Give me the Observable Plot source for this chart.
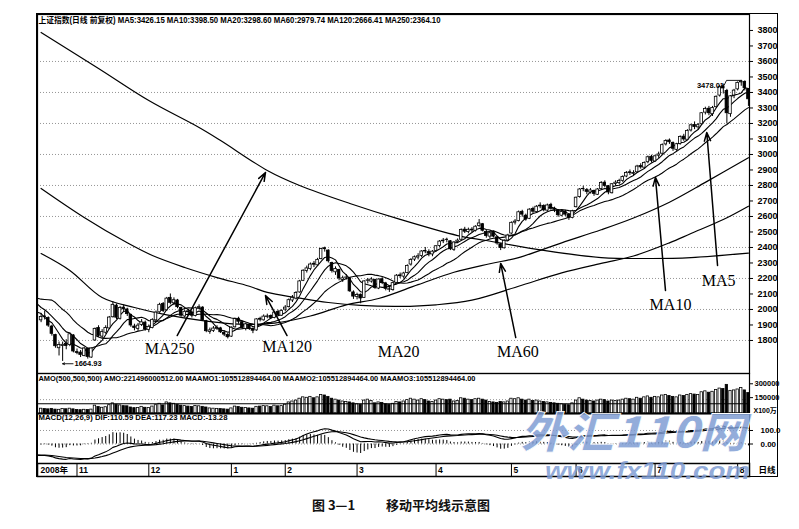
<!DOCTYPE html>
<html><head><meta charset="utf-8">
<script src="https://cdn.jsdelivr.net/npm/d3@7"></script>
<script src="https://cdn.jsdelivr.net/npm/@observablehq/plot@0.6"></script>
<style>
body{margin:0;background:#fff;}
#wrap{position:relative;width:799px;height:529px;overflow:hidden;background:#fff;font-family:"Liberation Sans",Arial,"Noto Sans CJK SC",sans-serif;}
#wrap > *{position:absolute;}
#box{left:36px;top:13px;width:740px;height:462px;border:1px solid #000;}
.cap{font-family:"Noto Sans CJK SC",sans-serif;font-weight:700;font-size:13px;color:#111;white-space:pre;}
</style></head><body><div id="wrap"><div id="box"></div></div>
<script>
// ---------- data ----------
const mainHeader = "上证指数(日线 前复权) MA5:3426.15 MA10:3398.50 MA20:3298.60 MA60:2979.74 MA120:2666.41 MA250:2364.10";
const volHeader = "AMO(500,500,500) AMO:221496000512.00 MAAMO1:105512894464.00 MAAMO2:105512894464.00 MAAMO3:105512894464.00";
const macdHeader = "MACD(12,26,9) DIF:110.59 DEA:117.23 MACD:-13.28";
const captionLeft = "图 3—1";
const captionRight = "移动平均线示意图";

// closes of the 19 sessions before the first visible day (for MA / MACD warm-up)
const priorClose = [1987,1929,1896,2075,2236,2202,2114,2298,2294,2174,2093,2092,2075,2001,1999,2073,1998,1913,1931];

const openP = [
1930,1955,1945,1890,1835,1750,1765,1778,1770,1832,
1725,1722,1700,1745,1690,1800,1880,1825,1850,1878,
1950,2025,1940,2012,2000,1965,1890,1875,1900,1915,
1868,1880,1930,1982,2035,1995,2075,2040,2058,2010,
1955,1988,1980,1958,2010,2012,1925,1855,1862,1875,
1878,1850,1835,1825,1885,1940,1918,1875,1900,1870,
1865,1940,1930,1952,1958,1945,1985,1960,2000,2015,
2058,2070,2110,2185,2248,2262,2295,2285,2325,2395,
2380,2300,2240,2255,2190,2205,2200,2110,2080,2095,
2075,2185,2180,2190,2135,2195,2168,2130,2125,2172,
2220,2212,2235,2290,2322,2335,2345,2378,2370,2355,
2378,2410,2440,2450,2440,2385,2435,2450,2515,2500,
2515,2508,2538,2550,2500,2470,2495,2465,2420,2395,
2445,2490,2560,2570,2630,2605,2585,2648,2628,2665,
2668,2638,2675,2648,2640,2605,2632,2610,2590,2660,
2725,2778,2770,2755,2765,2740,2778,2818,2795,2750,
2810,2815,2830,2858,2885,2875,2885,2925,2915,2950,
2985,2955,2992,3005,3065,3090,3075,3030,3068,3115,
3095,3155,3190,3175,3195,3270,3295,3260,3305,3380,
3440,3410,3260,3380,3420,3465,3468,3420];
const highP = [
1975,1990,1952,1898,1840,1790,1790,1805,1848,1838,
1745,1735,1755,1750,1752,1880,1895,1870,1895,1955,
2050,2035,2020,2030,2008,1970,1905,1910,1935,1925,
1900,1940,1990,2040,2045,2078,2100,2075,2065,2015,
1995,2000,1990,2015,2030,2018,1930,1880,1890,1895,
1885,1862,1845,1888,1945,1950,1925,1912,1910,1880,
1940,1950,1965,1970,1965,1988,1995,1998,2025,2068,
2090,2115,2188,2256,2280,2300,2310,2330,2395,2402,
2385,2305,2275,2260,2215,2225,2205,2120,2105,2100,
2185,2200,2205,2195,2198,2205,2175,2145,2175,2225,
2235,2240,2288,2328,2345,2360,2380,2400,2385,2380,
2412,2445,2458,2460,2445,2438,2455,2520,2530,2525,
2528,2540,2580,2555,2510,2500,2505,2470,2425,2450,
2485,2565,2580,2635,2640,2615,2650,2660,2670,2688,
2675,2680,2685,2660,2645,2638,2640,2615,2640,2725,
2780,2795,2780,2780,2770,2780,2825,2830,2800,2812,
2830,2840,2862,2890,2900,2895,2930,2940,2952,2990,
2995,2995,3015,3068,3095,3100,3080,3072,3120,3130,
3160,3195,3210,3200,3270,3305,3310,3310,3378,3445,
3454,3420,3380,3420,3468,3478,3475,3425];
const lowP = [
1915,1932,1885,1828,1750,1700,1665,1740,1760,1720,
1708,1690,1695,1680,1685,1795,1820,1812,1840,1870,
1945,1935,1932,1985,1955,1885,1862,1860,1890,1860,
1850,1875,1920,1975,1980,1988,2030,2025,2005,1950,
1945,1968,1945,1952,1998,1925,1850,1840,1852,1865,
1845,1825,1810,1820,1880,1905,1870,1862,1865,1844,
1860,1920,1925,1940,1935,1940,1955,1955,1985,2010,
2045,2062,2105,2180,2235,2250,2270,2278,2320,2370,
2300,2235,2220,2185,2175,2190,2110,2065,2062,2037,
2072,2165,2170,2130,2128,2160,2120,2110,2118,2165,
2200,2200,2230,2280,2310,2320,2335,2360,2340,2340,
2370,2400,2425,2430,2380,2375,2425,2445,2490,2488,
2495,2500,2530,2500,2460,2455,2462,2415,2380,2390,
2440,2485,2545,2565,2595,2570,2580,2620,2620,2650,
2630,2630,2640,2625,2595,2598,2600,2575,2585,2655,
2718,2760,2740,2745,2730,2735,2770,2785,2740,2745,
2798,2805,2820,2850,2865,2860,2878,2905,2905,2940,
2945,2950,2975,3000,3055,3065,3020,3020,3060,3085,
3090,3145,3160,3160,3190,3255,3250,3245,3300,3370,
3390,3197,3240,3360,3410,3440,3410,3310];
const closeP = [
1952,1950,1896,1843,1763,1771,1772,1764,1840,1729,
1720,1707,1748,1694,1748,1875,1830,1854,1880,1948,
2030,1947,2010,2001,1970,1897,1880,1896,1917,1871,
1888,1933,1980,2030,1990,2070,2043,2060,2015,1960,
1985,1982,1960,2008,2015,1930,1860,1865,1877,1880,
1853,1838,1821,1882,1938,1921,1879,1904,1875,1863,
1936,1934,1954,1955,1946,1980,1963,1991,2012,2060,
2075,2107,2181,2250,2265,2290,2289,2320,2390,2389,
2311,2249,2261,2200,2201,2206,2117,2083,2093,2071,
2181,2188,2193,2139,2193,2170,2133,2128,2170,2218,
2215,2232,2281,2320,2337,2343,2374,2374,2360,2373,
2408,2438,2444,2448,2389,2432,2444,2513,2502,2514,
2510,2534,2555,2508,2474,2492,2470,2426,2396,2443,
2477,2559,2567,2627,2612,2580,2644,2631,2663,2670,
2640,2671,2650,2643,2608,2629,2612,2592,2633,2721,
2774,2776,2759,2768,2746,2774,2816,2797,2755,2808,
2818,2829,2855,2880,2880,2881,2922,2917,2945,2982,
2959,2988,3000,3060,3087,3079,3037,3066,3113,3097,
3152,3188,3177,3189,3266,3293,3266,3300,3372,3435,
3426,3266,3375,3412,3462,3471,3428,3356];
// turnover, in units of 100万 yuan
const volume = [
52000,48000,45000,50000,42000,40000,48000,46000,52000,45000,
38000,36000,40000,38000,42000,85000,70000,62000,68000,90000,110000,95000,88000,80000,78000,65000,58000,60000,72000,62000,
60000,75000,90000,105000,88000,120000,110000,105000,95000,85000,80000,75000,70000,82000,78000,72000,65000,55000,52000,50000,48000,45000,42000,
55000,75000,70000,62000,60000,55000,52000,72000,75000,80000,78000,70000,85000,78000,80000,
95000,120000,130000,140000,160000,175000,170000,180000,165000,175000,200000,195000,180000,160000,150000,140000,130000,125000,120000,110000,
100000,95000,140000,150000,135000,110000,120000,115000,100000,95000,105000,125000,120000,130000,145000,160000,150000,140000,155000,145000,130000,125000,
140000,155000,150000,145000,150000,130000,135000,165000,160000,150000,145000,155000,160000,150000,140000,125000,120000,115000,125000,120000,130000,
160000,155000,165000,150000,140000,150000,135000,140000,130000,125000,120000,115000,110000,105000,100000,95000,90000,110000,
140000,165000,150000,140000,135000,130000,140000,150000,145000,130000,140000,135000,140000,150000,160000,155000,150000,170000,160000,175000,185000,170000,
180000,175000,195000,200000,190000,180000,175000,195000,190000,200000,210000,205000,200000,230000,240000,225000,235000,255000,270000,265000,310000,245000,250000,
260000,275000,250000,221496];
const maamo = 105512.894464;

// long moving averages (session index -> value)
const ma60Day = [0,8,17,26,35,45,55,65,75,85,94,105,115,125,133,145,156,165,175,185,197];
const ma60 = [2361,2252,2077,2013,1965,1928,1905,1912,1958,2030,2071,2160,2240,2295,2335,2430,2514,2590,2692,2820,2979];
const ma120Day = [0,12,24,31,40,49,58,63,71,80,89,100,110,120,133,145,156,165,175,181,190,197];
const ma120 = [2781,2594,2430,2348,2271,2206,2150,2110,2077,2045,2026,2020,2030,2060,2150,2236,2297,2345,2430,2490,2580,2666];
const ma250Day = [0,16,30,44,50,63,72,86,100,116,124,140,156,170,181,197];
const ma250 = [3787,3555,3348,3174,3090,2897,2800,2684,2581,2477,2445,2381,2335,2329,2335,2364];

// MACD warm-up state before the first prior session
const emaSeed12 = 2160, emaSeed26 = 2330, deaSeed = -140;

// axes
const priceTicks = [1800,1900,2000,2100,2200,2300,2400,2500,2600,2700,2800,2900,3000,3100,3200,3300,3400,3500,3600,3700,3800];
const gridTicks = [1800,2000,2200,2400,2600,2800,3000,3200,3400,3600];
const volTicks = [150000,300000];
const volUnit = "X100万";
const macdTicks = [0,100];
const macdTickLabels = ["0.00","100.0"];
const monthDay = [10,30,53,68,88,110,131,149,171,194];
const monthLabel = ["11","12","1","2","3","4","5","6","7","8"];
const yearLabel = "2008年";
const periodLabel = "日线";

// annotations
const annoLabel = ["MA250","MA120","MA20","MA60","MA10","MA5"];
const annoDay = [35.8,68.5,99.6,132.8,175.3,188.7];
const annoPrice = [1745,1758,1729,1729,2032,2187];
const arrowFromDay = [37.9,68.5,132.2,173.9,188.4];
const arrowFromPrice = [1832,1832,1819,2123,2284];
const arrowToDay = [62.5,62.5,128,171.1,185.4];
const arrowToPrice = [2884,2090,2297,2852,3142];
const peakLabel = "3478.01";
const peakLabelDay = 190.2, peakLabelPrice = 3445;
const peakLineDay = [190.3,190.9,195];
const peakLinePrice = [3450,3478,3478];
const lowLabel = "1664.93";
const lowArrowDay = [8.9,6.0], lowArrowPrice = [1650,1650];
const lowLabelDay = 9.3;

const watermarkCN = "外汇110网";
const watermarkURL = "www.fx110.com";

// ---------- build ----------
const days = closeP.map((c,i)=>({i, o:openP[i], h:highP[i], l:lowP[i], c, v:volume[i]}));
const hist = priorClose.map((c,k)=>({i:k-priorClose.length, c})).concat(days.map(d=>({i:d.i, c:d.c})));
const toPts = (ds, vs) => ds.map((d,k)=>({i:d, v:vs[k]}));

let e12 = emaSeed12, e26 = emaSeed26, dea = deaSeed;
const macdRows = hist.map(d => {
  e12 = e12*11/13 + d.c*2/13;
  e26 = e26*25/27 + d.c*2/27;
  const dif = e12 - e26;
  dea = dea*0.8 + dif*0.2;
  return {i:d.i, dif, dea, macd:2*(dif-dea)};
});

const FONT = "Liberation Sans, Arial, Noto Sans CJK SC, sans-serif";
const common = {width:740, marginLeft:0, marginRight:28, marginTop:0, marginBottom:0,
  x:{domain:[-1,197.3], axis:null}, color:{type:"identity"},
  style:{fontFamily:FONT, background:"transparent", overflow:"visible", color:"#000"}};
const upFill = d => d.c >= d.o ? "#fff" : "#000";
const maLine = (k) => Plot.lineY(hist, Plot.windowY({k, anchor:"end", reduce:"mean"}, {x:"i", y:"c", stroke:"#000", strokeWidth:1.1, clip:true}));

const mainPlot = Plot.plot({...common, height:359,
  y:{domain:[1587,3903]},
  marks:[
    Plot.ruleY(gridTicks, {stroke:"#8a8a8a", strokeDasharray:"1,2", strokeWidth:0.9}),
    Plot.axisY(priceTicks, {anchor:"right", tickSize:3, tickPadding:5, tickFormat:d=>String(d), fontSize:9, fontWeight:"bold", label:null}),
    Plot.line(toPts(ma250Day, ma250), {x:"i", y:"v", curve:"catmull-rom", stroke:"#000", strokeWidth:1.2}),
    Plot.line(toPts(ma120Day, ma120), {x:"i", y:"v", curve:"catmull-rom", stroke:"#000", strokeWidth:1.2}),
    Plot.line(toPts(ma60Day, ma60), {x:"i", y:"v", curve:"catmull-rom", stroke:"#000", strokeWidth:1.2}),
    maLine(20), maLine(10), maLine(5),
    Plot.ruleX(days, {x:"i", y1:"l", y2:"h", stroke:"#000", strokeWidth:1}),
    Plot.rect(days, {x1:d=>d.i-0.36, x2:d=>d.i+0.36, y1:"o", y2:"c", fill:upFill, stroke:"#000", strokeWidth:0.8}),
    Plot.arrow(arrowFromDay.map((d,k)=>k), {x1:k=>arrowFromDay[k], y1:k=>arrowFromPrice[k], x2:k=>arrowToDay[k], y2:k=>arrowToPrice[k], stroke:"#000", strokeWidth:1.5, headLength:9, headAngle:40}),
    Plot.text(annoLabel, {x:(d,k)=>annoDay[k], y:(d,k)=>annoPrice[k], text:d=>d, fontFamily:"Liberation Serif, Times New Roman, serif", fontSize:16, fill:"#000"}),
    Plot.line(toPts(peakLineDay, peakLinePrice), {x:"i", y:"v", stroke:"#000", strokeWidth:0.9}),
    Plot.text([peakLabel], {x:peakLabelDay, y:peakLabelPrice, text:d=>d, textAnchor:"end", fontSize:7.5, fontWeight:"bold"}),
    Plot.arrow([0], {x1:lowArrowDay[0], y1:lowArrowPrice[0], x2:lowArrowDay[1], y2:lowArrowPrice[1], stroke:"#000", strokeWidth:0.9, headLength:3.5, headAngle:50}),
    Plot.text([lowLabel], {x:lowLabelDay, y:lowArrowPrice[0], text:d=>d, textAnchor:"start", fontSize:7.5, fontWeight:"bold"}),
    Plot.text([mainHeader], {frameAnchor:"top-left", text:d=>d, dx:1, dy:2, fontSize:8.5, fontWeight:"bold", textAnchor:"start", lineAnchor:"top"}),
    Plot.frame({stroke:"#000", strokeWidth:1.2})
  ]});

const volPlot = Plot.plot({...common, height:40,
  y:{domain:[0,433000]},
  marks:[
    Plot.ruleY(volTicks.slice(0,1), {stroke:"#8a8a8a", strokeDasharray:"1,2", strokeWidth:0.9}),
    Plot.rect(days, {x1:d=>d.i-0.33, x2:d=>d.i+0.33, y1:0, y2:"v", fill:upFill, stroke:"#000", strokeWidth:0.8}),
    Plot.ruleY([maamo], {stroke:"#000", strokeWidth:1}),
    Plot.axisY(volTicks, {anchor:"right", tickSize:3, tickPadding:2, tickFormat:d=>String(d), fontSize:7.5, fontWeight:"bold", label:null, dy:-2}),
    Plot.text([volUnit], {frameAnchor:"bottom-right", text:d=>d, dx:4, dy:-1, textAnchor:"start", lineAnchor:"bottom", fontSize:7, fontWeight:"bold"}),
    Plot.text([volHeader], {frameAnchor:"top-left", text:d=>d, dx:1, dy:2, fontSize:7.5, fontWeight:"bold", textAnchor:"start", lineAnchor:"top"}),
    Plot.frame({stroke:"#000", strokeWidth:1.2}),
    Plot.ruleY([0], {stroke:"#000", strokeWidth:2})
  ]});

const macdPlot = Plot.plot({...common, height:50,
  y:{domain:[-144.4,225.9]},
  marks:[
    Plot.ruleY(macdTicks, {stroke:"#8a8a8a", strokeDasharray:"1,2", strokeWidth:0.9}),
    Plot.ruleX(macdRows, {x:"i", y1:0, y2:"macd", stroke:"#000", strokeWidth:1, clip:true}),
    Plot.line(macdRows, {x:"i", y:"dif", stroke:"#000", strokeWidth:1.1, clip:true}),
    Plot.line(macdRows, {x:"i", y:"dea", stroke:"#000", strokeWidth:1.1, clip:true}),
    Plot.axisY(macdTicks, {anchor:"right", tickSize:3, tickPadding:8, tickFormat:d=>macdTickLabels[macdTicks.indexOf(d)], fontSize:8, fontWeight:"bold", label:null}),
    Plot.text([macdHeader], {frameAnchor:"top-left", text:d=>d, dx:1, dy:1, fontSize:7.5, fontWeight:"bold", textAnchor:"start", lineAnchor:"top"}),
    Plot.frame({stroke:"#000", strokeWidth:1})
  ]});

const axisPlot = Plot.plot({...common, height:13,
  y:{domain:[0,1], axis:null},
  marks:[
    Plot.ruleX(monthDay, {x:d=>d, stroke:"#000", strokeWidth:1}),
    Plot.text(monthDay, {x:d=>d, text:(d,k)=>monthLabel[k], frameAnchor:"middle", dx:2, textAnchor:"start", fontSize:8.5, fontWeight:"bold"}),
    Plot.text([yearLabel], {frameAnchor:"left", text:d=>d, dx:3, textAnchor:"start", fontSize:8.5, fontWeight:"bold"}),
    Plot.text([periodLabel], {frameAnchor:"right", text:d=>d, dx:9, textAnchor:"start", fontSize:8.5, fontWeight:"bold"}),
    Plot.frame({stroke:"#000", strokeWidth:1.5})
  ]});

const wrap = document.getElementById("wrap");
function place(svg, top){ svg.style.left = "37px"; svg.style.top = top + "px"; wrap.appendChild(svg); }
place(mainPlot, 14); place(volPlot, 373); place(macdPlot, 413); place(axisPlot, 463);

function fitText(svg, startsWith, len){
  d3.select(svg).selectAll("text").filter(function(){return this.textContent.startsWith(startsWith);})
    .attr("textLength", len).attr("lengthAdjust","spacingAndGlyphs");
}
fitText(mainPlot, "上证", 402);
fitText(volPlot, "AMO(", 437);
fitText(macdPlot, "MACD(", 189);

// watermark overlay
const ov = d3.create("svg").attr("width",799).attr("height",529).style("left","0px").style("top","0px").style("pointer-events","none");
ov.append("text").attr("x",520).attr("y",448).attr("textLength",226).attr("lengthAdjust","spacingAndGlyphs")
  .attr("font-family","Noto Sans CJK SC, sans-serif").attr("font-weight",900).attr("font-style","italic").attr("font-size",43)
  .attr("fill","#7f9dd4").attr("fill-opacity",0.85).attr("stroke","#fff").attr("stroke-width",0.8).text(watermarkCN);
ov.append("text").attr("x",545).attr("y",479).attr("textLength",205).attr("lengthAdjust","spacingAndGlyphs")
  .attr("font-family","Liberation Sans, Arial, sans-serif").attr("font-weight",700).attr("font-style","italic").attr("font-size",24)
  .attr("fill","#7f9dd4").attr("fill-opacity",0.85).text(watermarkURL);
wrap.appendChild(ov.node());

// caption
const c1 = document.createElement("div"); c1.className = "cap"; c1.textContent = captionLeft; c1.style.left = "312px"; c1.style.top = "495px";
const c2 = document.createElement("div"); c2.className = "cap"; c2.textContent = captionRight; c2.style.left = "386px"; c2.style.top = "495px";
wrap.appendChild(c1); wrap.appendChild(c2);
</script></body></html>
